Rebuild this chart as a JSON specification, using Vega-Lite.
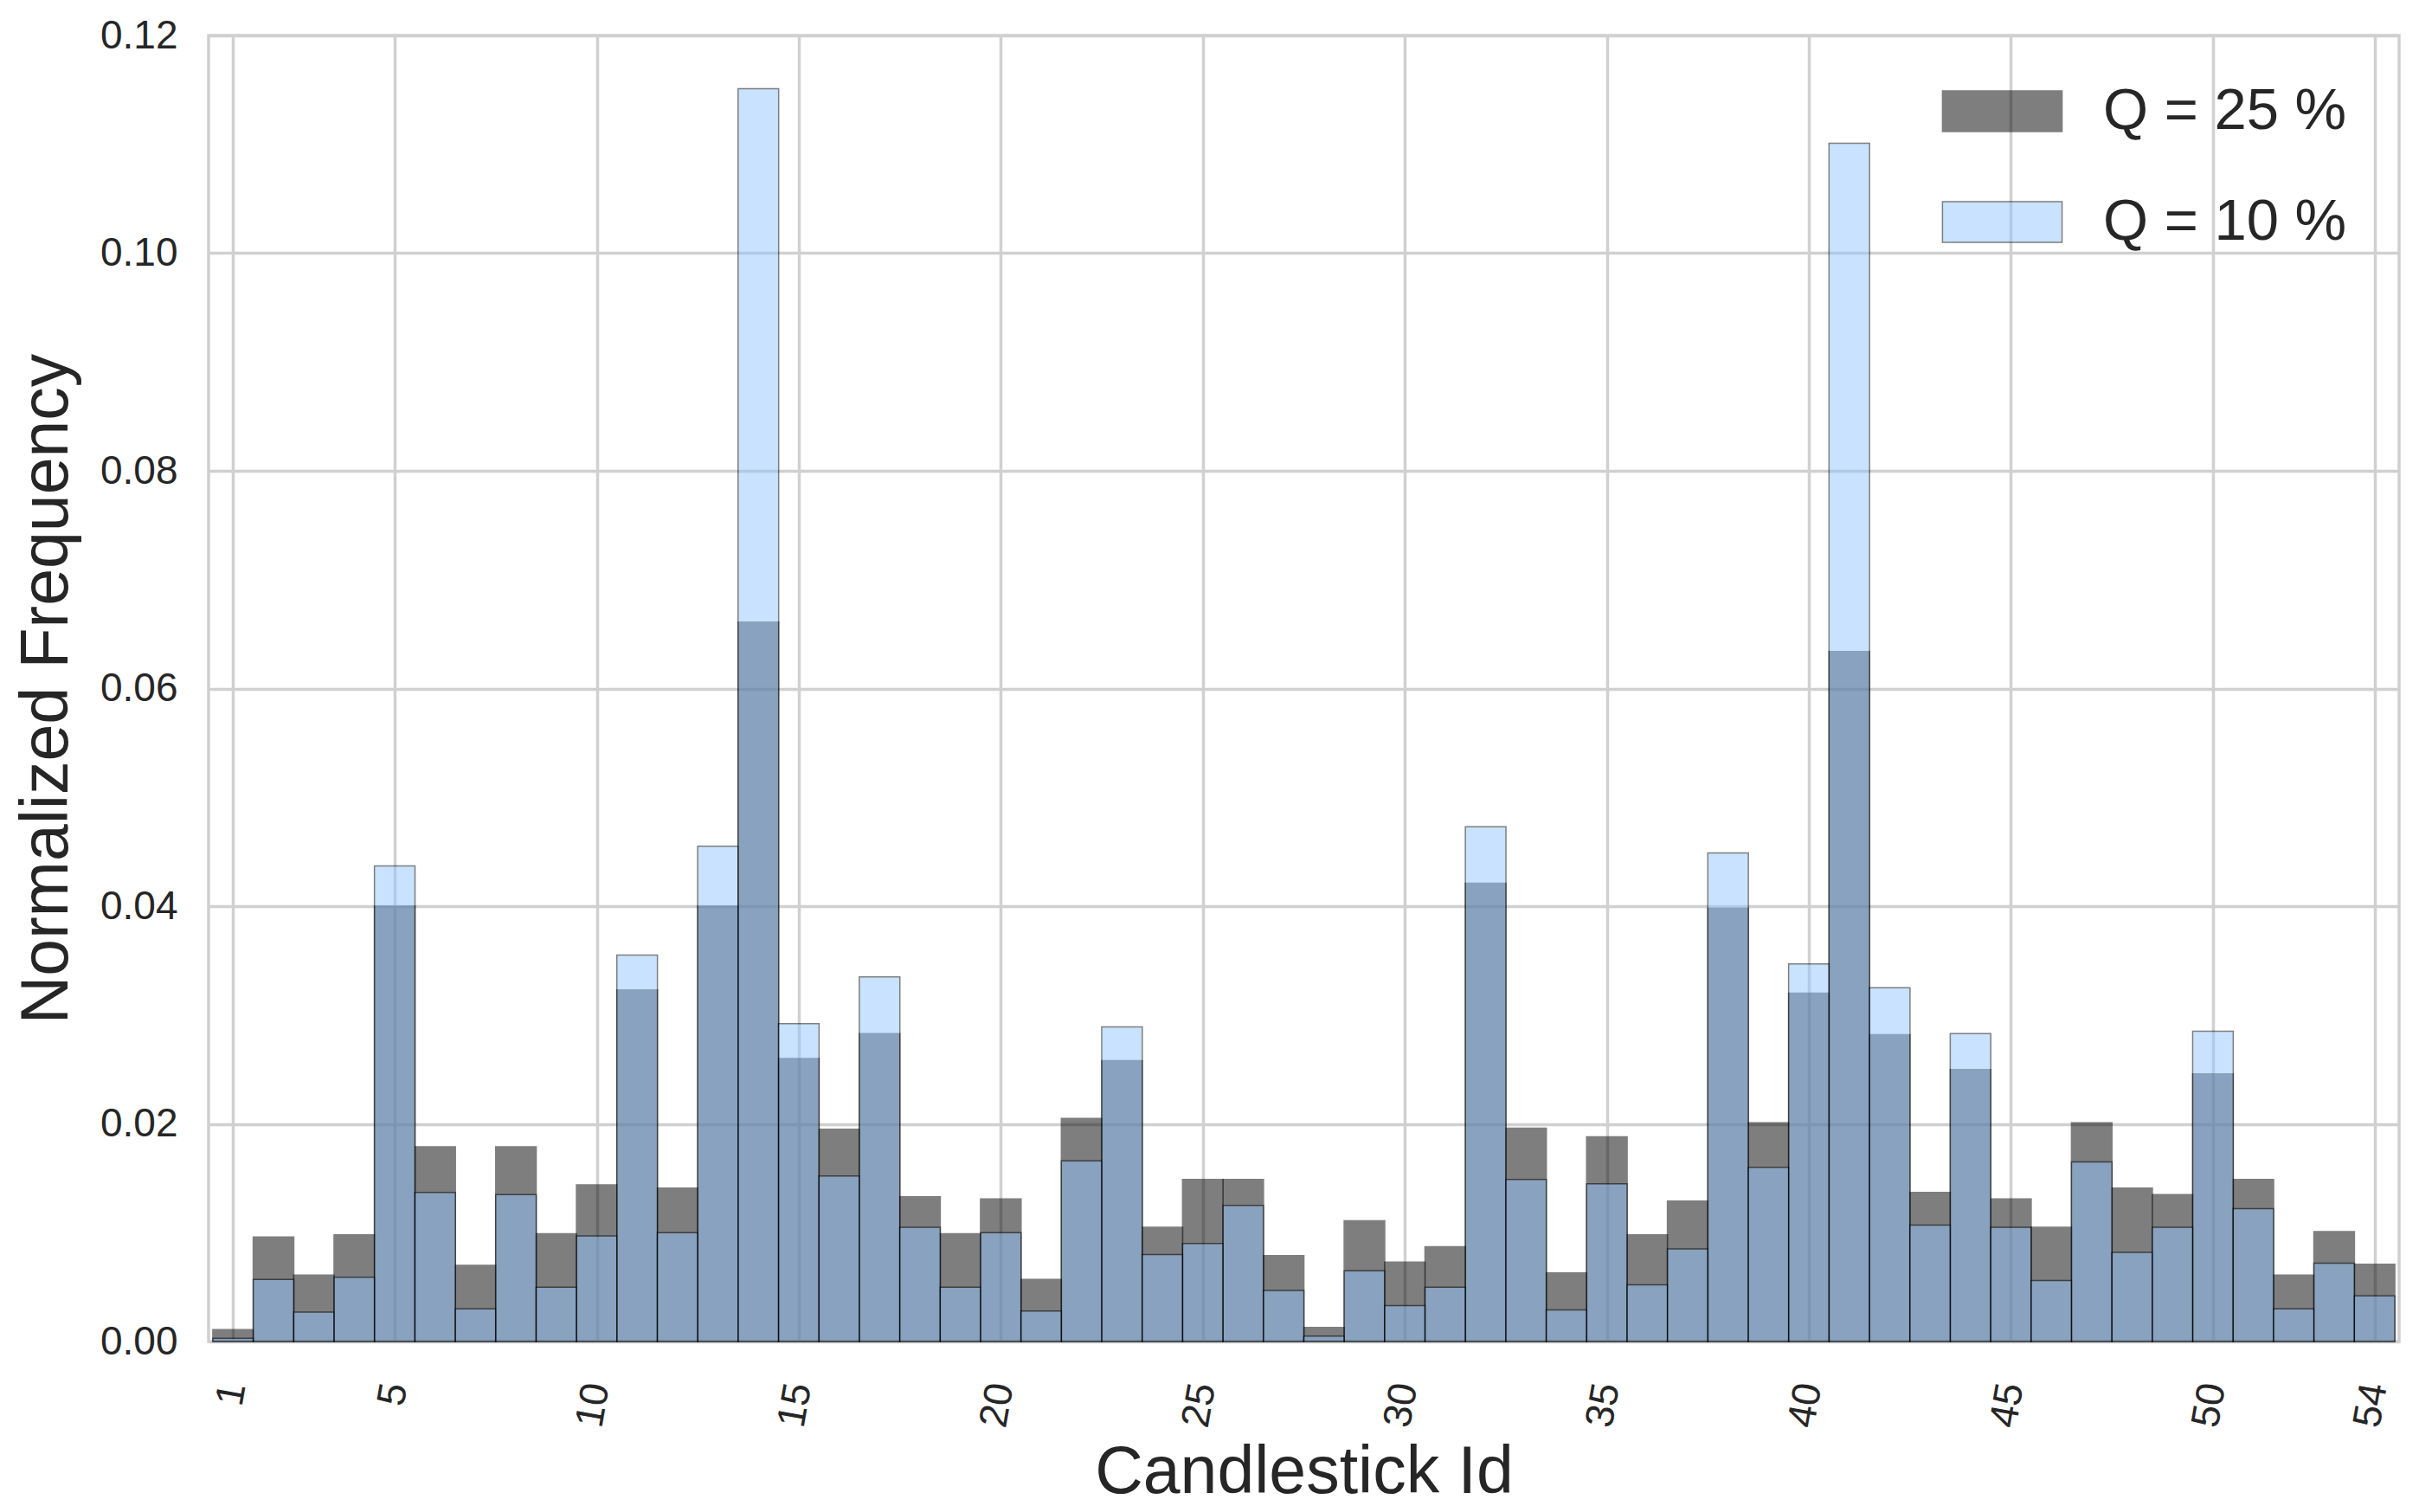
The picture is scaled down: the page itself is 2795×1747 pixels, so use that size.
{
  "$schema": "https://vega.github.io/schema/vega-lite/v6.json",
  "width": 2531,
  "height": 1509,
  "autosize": {"type": "none"},
  "padding": {"left": 241, "top": 41, "right": 23, "bottom": 197},
  "background": "white",
  "config": {
    "view": {"stroke": "#cfcfcf", "strokeWidth": 3.5},
    "font": "Liberation Sans",
    "axis": {
      "gridColor": "#d0d0d0",
      "gridWidth": 3.5,
      "domain": false,
      "ticks": false,
      "labelFont": "Liberation Sans",
      "labelFontSize": 46,
      "labelColor": "#262626",
      "titleFont": "Liberation Sans",
      "titleFontSize": 77,
      "titleFontWeight": "normal",
      "titleColor": "#262626"
    },
    "legend": {
      "orient": "none",
      "legendX": 2039,
      "legendY": 54,
      "padding": 0,
      "symbolType": "M-2.94,-1L2.94,-1L2.94,1L-2.94,1Z",
      "symbolSize": 2209,
      "symbolStrokeColor": "#000000",
      "symbolStrokeWidth": 1.5,
      "labelFont": "Liberation Sans",
      "labelFontSize": 67,
      "labelColor": "#262626",
      "labelOffset": 83,
      "labelLimit": 0,
      "rowPadding": 60
    }
  },
  "data": {
    "values": [
      {"id": 1, "q": "Q = 25 %", "v": 0.0011}, {"id": 1, "q": "Q = 10 %", "v": 0.0003},
      {"id": 2, "q": "Q = 25 %", "v": 0.0096}, {"id": 2, "q": "Q = 10 %", "v": 0.0057},
      {"id": 3, "q": "Q = 25 %", "v": 0.0061}, {"id": 3, "q": "Q = 10 %", "v": 0.0027},
      {"id": 4, "q": "Q = 25 %", "v": 0.0098}, {"id": 4, "q": "Q = 10 %", "v": 0.0059},
      {"id": 5, "q": "Q = 25 %", "v": 0.0400}, {"id": 5, "q": "Q = 10 %", "v": 0.0437},
      {"id": 6, "q": "Q = 25 %", "v": 0.0179}, {"id": 6, "q": "Q = 10 %", "v": 0.0137},
      {"id": 7, "q": "Q = 25 %", "v": 0.0070}, {"id": 7, "q": "Q = 10 %", "v": 0.0030},
      {"id": 8, "q": "Q = 25 %", "v": 0.0179}, {"id": 8, "q": "Q = 10 %", "v": 0.0135},
      {"id": 9, "q": "Q = 25 %", "v": 0.0099}, {"id": 9, "q": "Q = 10 %", "v": 0.0050},
      {"id": 10, "q": "Q = 25 %", "v": 0.0144}, {"id": 10, "q": "Q = 10 %", "v": 0.0097},
      {"id": 11, "q": "Q = 25 %", "v": 0.0323}, {"id": 11, "q": "Q = 10 %", "v": 0.0355},
      {"id": 12, "q": "Q = 25 %", "v": 0.0141}, {"id": 12, "q": "Q = 10 %", "v": 0.0100},
      {"id": 13, "q": "Q = 25 %", "v": 0.0400}, {"id": 13, "q": "Q = 10 %", "v": 0.0455},
      {"id": 14, "q": "Q = 25 %", "v": 0.0661}, {"id": 14, "q": "Q = 10 %", "v": 0.1151},
      {"id": 15, "q": "Q = 25 %", "v": 0.0260}, {"id": 15, "q": "Q = 10 %", "v": 0.0292},
      {"id": 16, "q": "Q = 25 %", "v": 0.0195}, {"id": 16, "q": "Q = 10 %", "v": 0.0152},
      {"id": 17, "q": "Q = 25 %", "v": 0.0283}, {"id": 17, "q": "Q = 10 %", "v": 0.0335},
      {"id": 18, "q": "Q = 25 %", "v": 0.0133}, {"id": 18, "q": "Q = 10 %", "v": 0.0105},
      {"id": 19, "q": "Q = 25 %", "v": 0.0099}, {"id": 19, "q": "Q = 10 %", "v": 0.0050},
      {"id": 20, "q": "Q = 25 %", "v": 0.0131}, {"id": 20, "q": "Q = 10 %", "v": 0.0100},
      {"id": 21, "q": "Q = 25 %", "v": 0.0057}, {"id": 21, "q": "Q = 10 %", "v": 0.0028},
      {"id": 22, "q": "Q = 25 %", "v": 0.0205}, {"id": 22, "q": "Q = 10 %", "v": 0.0166},
      {"id": 23, "q": "Q = 25 %", "v": 0.0258}, {"id": 23, "q": "Q = 10 %", "v": 0.0289},
      {"id": 24, "q": "Q = 25 %", "v": 0.0105}, {"id": 24, "q": "Q = 10 %", "v": 0.0080},
      {"id": 25, "q": "Q = 25 %", "v": 0.0149}, {"id": 25, "q": "Q = 10 %", "v": 0.0090},
      {"id": 26, "q": "Q = 25 %", "v": 0.0149}, {"id": 26, "q": "Q = 10 %", "v": 0.0125},
      {"id": 27, "q": "Q = 25 %", "v": 0.0079}, {"id": 27, "q": "Q = 10 %", "v": 0.0047},
      {"id": 28, "q": "Q = 25 %", "v": 0.0013}, {"id": 28, "q": "Q = 10 %", "v": 0.0005},
      {"id": 29, "q": "Q = 25 %", "v": 0.0111}, {"id": 29, "q": "Q = 10 %", "v": 0.0065},
      {"id": 30, "q": "Q = 25 %", "v": 0.0073}, {"id": 30, "q": "Q = 10 %", "v": 0.0033},
      {"id": 31, "q": "Q = 25 %", "v": 0.0087}, {"id": 31, "q": "Q = 10 %", "v": 0.0050},
      {"id": 32, "q": "Q = 25 %", "v": 0.0421}, {"id": 32, "q": "Q = 10 %", "v": 0.0473},
      {"id": 33, "q": "Q = 25 %", "v": 0.0196}, {"id": 33, "q": "Q = 10 %", "v": 0.0149},
      {"id": 34, "q": "Q = 25 %", "v": 0.0063}, {"id": 34, "q": "Q = 10 %", "v": 0.0029},
      {"id": 35, "q": "Q = 25 %", "v": 0.0188}, {"id": 35, "q": "Q = 10 %", "v": 0.0145},
      {"id": 36, "q": "Q = 25 %", "v": 0.0098}, {"id": 36, "q": "Q = 10 %", "v": 0.0052},
      {"id": 37, "q": "Q = 25 %", "v": 0.0129}, {"id": 37, "q": "Q = 10 %", "v": 0.0085},
      {"id": 38, "q": "Q = 25 %", "v": 0.0398}, {"id": 38, "q": "Q = 10 %", "v": 0.0449},
      {"id": 39, "q": "Q = 25 %", "v": 0.0201}, {"id": 39, "q": "Q = 10 %", "v": 0.0160},
      {"id": 40, "q": "Q = 25 %", "v": 0.0320}, {"id": 40, "q": "Q = 10 %", "v": 0.0347},
      {"id": 41, "q": "Q = 25 %", "v": 0.0634}, {"id": 41, "q": "Q = 10 %", "v": 0.1101},
      {"id": 42, "q": "Q = 25 %", "v": 0.0282}, {"id": 42, "q": "Q = 10 %", "v": 0.0325},
      {"id": 43, "q": "Q = 25 %", "v": 0.0137}, {"id": 43, "q": "Q = 10 %", "v": 0.0107},
      {"id": 44, "q": "Q = 25 %", "v": 0.0250}, {"id": 44, "q": "Q = 10 %", "v": 0.0283},
      {"id": 45, "q": "Q = 25 %", "v": 0.0131}, {"id": 45, "q": "Q = 10 %", "v": 0.0105},
      {"id": 46, "q": "Q = 25 %", "v": 0.0105}, {"id": 46, "q": "Q = 10 %", "v": 0.0056},
      {"id": 47, "q": "Q = 25 %", "v": 0.0201}, {"id": 47, "q": "Q = 10 %", "v": 0.0165},
      {"id": 48, "q": "Q = 25 %", "v": 0.0141}, {"id": 48, "q": "Q = 10 %", "v": 0.0082},
      {"id": 49, "q": "Q = 25 %", "v": 0.0135}, {"id": 49, "q": "Q = 10 %", "v": 0.0105},
      {"id": 50, "q": "Q = 25 %", "v": 0.0246}, {"id": 50, "q": "Q = 10 %", "v": 0.0285},
      {"id": 51, "q": "Q = 25 %", "v": 0.0149}, {"id": 51, "q": "Q = 10 %", "v": 0.0122},
      {"id": 52, "q": "Q = 25 %", "v": 0.0061}, {"id": 52, "q": "Q = 10 %", "v": 0.0030},
      {"id": 53, "q": "Q = 25 %", "v": 0.0101}, {"id": 53, "q": "Q = 10 %", "v": 0.0072},
      {"id": 54, "q": "Q = 25 %", "v": 0.0071}, {"id": 54, "q": "Q = 10 %", "v": 0.0042}
    ]
  },
  "encoding": {
    "x": {
      "field": "id",
      "type": "quantitative",
      "scale": {"domain": [0.5, 54.5], "nice": false, "zero": false},
      "axis": {
        "values": [1, 5, 10, 15, 20, 25, 30, 35, 40, 45, 50, 54],
        "format": "d",
        "labelAngle": -80,
        "labelPadding": 48,
        "title": "Candlestick Id",
        "titlePadding": 11
      }
    },
    "y": {
      "field": "v",
      "type": "quantitative",
      "stack": null,
      "scale": {"domain": [0, 0.12], "nice": false},
      "axis": {
        "values": [0, 0.02, 0.04, 0.06, 0.08, 0.1, 0.12],
        "format": ".2f",
        "labelPadding": 36,
        "title": "Normalized Frequency",
        "titlePadding": 22
      }
    },
    "color": {
      "field": "q",
      "type": "nominal",
      "scale": {"domain": ["Q = 25 %", "Q = 10 %"], "range": ["#000000", "#92c6ff"]},
      "legend": {"title": null}
    }
  },
  "layer": [
    {
      "transform": [{"filter": "datum.q === 'Q = 25 %'"}],
      "mark": {"type": "bar", "width": 46.87, "opacity": 0.5, "stroke": "#000000", "strokeWidth": 1.5}
    },
    {
      "transform": [{"filter": "datum.q === 'Q = 10 %'"}],
      "mark": {"type": "bar", "width": 46.87, "opacity": 0.5, "stroke": "#000000", "strokeWidth": 1.5}
    }
  ]
}
